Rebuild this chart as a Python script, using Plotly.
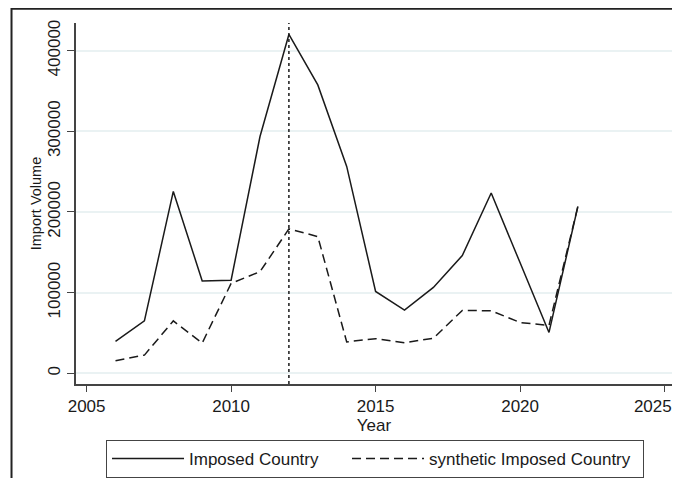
import plotly.graph_objects as go

years = list(range(2006, 2023))
imposed = [39500, 65000, 225500, 114500, 115500, 293500, 420000, 357500, 256500,
           101500, 78500, 106500, 146000, 223500, 137000, 50700, 207000]
synthetic = [15600, 22600, 65000, 37500, 111500, 126000, 179000, 169500, 39000,
             43000, 38000, 43500, 78000, 77500, 63000, 59500, 207000]
treat_year = 2012
y_ticks = [0, 100000, 200000, 300000, 400000]
y_tick_text = ["0", "100000", "200000", "300000", "400000"]
x_ticks = [2005, 2010, 2015, 2020, 2025]
# last label padded with no-break spaces so it stays inside the page edge
x_tick_text = ["2005", "2010", "2015", "2020", "2025" + "\u00a0" * 5]

FONT = "Arial, 'Liberation Sans', sans-serif"
INK = "#1a1a1a"

fig = go.Figure()
fig.add_trace(go.Scatter(x=years, y=imposed, mode="lines", name="Imposed Country",
                         line=dict(color=INK, width=1.5), legendwidth=153))
fig.add_trace(go.Scatter(x=years, y=synthetic, mode="lines", name="synthetic Imposed Country",
                         line=dict(color=INK, width=1.5, dash="9px,5px"), legendwidth=209))

fig.add_shape(type="line", xref="x", yref="paper", x0=treat_year, x1=treat_year, y0=0, y1=1,
              line=dict(color=INK, width=1.5, dash="3px,3px"))

# outer graph-region frame
fig.add_shape(type="rect", xref="paper", yref="paper", x0=-0.1082, x1=1.3, y0=-0.6, y1=1.0392,
              line=dict(color="#222222", width=2), layer="above")

fig.update_layout(
    width=664, height=470,
    margin=dict(l=68, r=0, t=15, b=93),
    paper_bgcolor="white", plot_bgcolor="white",
    font=dict(family=FONT, size=17, color=INK),
    showlegend=True,
    legend=dict(orientation="h", x=0.5017, xanchor="center", y=-0.1547, yanchor="top",
                bordercolor="#444444", borderwidth=1, font=dict(size=17, color=INK),
                itemwidth=72),
    xaxis=dict(range=[2004.633, 2025.256], tickvals=x_ticks, ticktext=x_tick_text,
               showgrid=False, zeroline=False,
               showline=True, linecolor="#444444", linewidth=1.5, ticks="outside", ticklen=6,
               tickcolor="#444444", tickfont=dict(size=17), automargin=False,
               ticklabeloverflow="allow",
               title=dict(text="Year", font=dict(size=17), standoff=0)),
    yaxis=dict(range=[-13200, 434200], tickvals=y_ticks, ticktext=y_tick_text, tickangle=-90,
               showgrid=True, gridcolor="#eaf2f3", gridwidth=1.5, zeroline=False,
               showline=True, linecolor="#444444", linewidth=1.5, ticks="outside", ticklen=7,
               tickcolor="#444444", tickfont=dict(size=17), automargin=False,
               ticklabeloverflow="allow",
               title=dict(text="Import Volume", font=dict(size=14.5), standoff=0)),
)

fig.write_html("out.html")
